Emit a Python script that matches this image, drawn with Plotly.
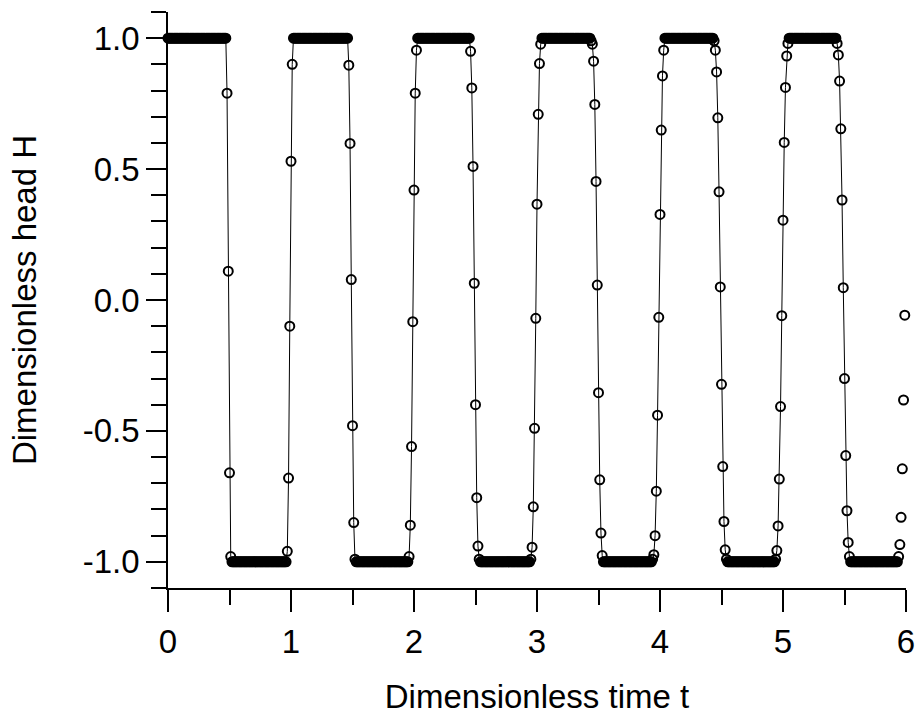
import plotly.graph_objects as go

# ---- data ----
time_step = 0.01
t_last = 5.99
initial_level = 1.0

# start time of each transition and the head values of the markers in it
transition_start = [0.48, 0.97, 1.47, 1.96, 2.46, 2.95, 3.44, 3.94, 4.44, 4.94, 5.44, 5.94]
transition_values = [
    [0.79, 0.11, -0.66, -0.98],
    [-0.96, -0.68, -0.10, 0.53, 0.90],
    [0.897, 0.598, 0.078, -0.48, -0.85, -0.99],
    [-0.98, -0.86, -0.56, -0.083, 0.42, 0.79, 0.954],
    [0.95, 0.81, 0.51, 0.064, -0.40, -0.755, -0.94, -0.99],
    [-0.99, -0.944, -0.79, -0.49, -0.07, 0.366, 0.709, 0.903, 0.977],
    [0.99, 0.977, 0.912, 0.747, 0.453, 0.057, -0.354, -0.687, -0.89, -0.976],
    [-0.99, -0.973, -0.90, -0.73, -0.44, -0.066, 0.327, 0.649, 0.856, 0.954],
    [0.99, 0.954, 0.871, 0.696, 0.413, 0.05, -0.322, -0.636, -0.846, -0.954, -0.99],
    [-0.99, -0.957, -0.863, -0.684, -0.407, -0.06, 0.305, 0.602, 0.812, 0.932, 0.98],
    [0.98, 0.936, 0.836, 0.654, 0.382, 0.047, -0.30, -0.594, -0.805, -0.926, -0.98],
    [-0.98, -0.934, -0.83, -0.645, -0.382, -0.058],
]
line_end_time = 5.93

x_tick_vals = [0, 1, 2, 3, 4, 5, 6]
x_tick_text = ["0", "1", "2", "3", "4", "5", "6"]
y_tick_vals = [-1.0, -0.5, 0.0, 0.5, 1.0]
y_tick_text = ["-1.0", "-0.5", "0.0", "0.5", "1.0"]

# ---- assemble the series (plateaus are the levels +1 / -1) ----
n_total = int(round(t_last / time_step)) + 1
H = []
level = initial_level
idx = 0
for start, vals in zip(transition_start, transition_values):
    s = int(round(start / time_step))
    H.extend([level] * (s - idx))
    idx = s
    H.extend(vals)
    idx += len(vals)
    level = -level
H.extend([level] * (n_total - idx))
t = [round(i * time_step, 4) for i in range(len(H))]

n_line = int(round(line_end_time / time_step)) + 1
t_line = t[:n_line]
H_line = H[:n_line]

FONT = "Liberation Sans, Arial, Helvetica, sans-serif"
FS = 33

fig = go.Figure()
fig.add_trace(go.Scatter(
    x=t_line, y=H_line, mode="lines",
    line=dict(color="black", width=1),
    showlegend=False, hoverinfo="skip",
))
fig.add_trace(go.Scatter(
    x=t, y=H, mode="markers",
    marker=dict(symbol="circle-open", size=9, color="black",
                line=dict(color="black", width=2)),
    cliponaxis=False, showlegend=False,
))

fig.update_layout(
    width=917, height=721,
    margin=dict(l=168, r=11, t=12, b=133),
    paper_bgcolor="white", plot_bgcolor="white",
    font=dict(family=FONT, size=FS, color="black"),
)
fig.update_xaxes(
    range=[0, 6], showgrid=False, zeroline=False,
    showline=True, linecolor="black", linewidth=1.5,
    ticks="outside", ticklen=22, tickwidth=1.5, tickcolor="black",
    tickvals=x_tick_vals, ticktext=x_tick_text,
    tickfont=dict(family=FONT, size=FS),
    ticklabelstandoff=2,
    minor=dict(ticks="outside", ticklen=15, tickwidth=1.5, tickcolor="black",
               tick0=0, dtick=0.5, showgrid=False),
    title=dict(text="Dimensionless time t", font=dict(family=FONT, size=FS), standoff=26),
    automargin=False,
)
fig.update_yaxes(
    range=[-1.1, 1.1], showgrid=False, zeroline=False,
    showline=True, linecolor="black", linewidth=1.5,
    ticks="outside", ticklen=20, tickwidth=1.5, tickcolor="black",
    tickvals=y_tick_vals, ticktext=y_tick_text,
    tickfont=dict(family=FONT, size=FS),
    ticklabelstandoff=0,
    minor=dict(ticks="outside", ticklen=15, tickwidth=1.5, tickcolor="black",
               tick0=0, dtick=0.1, showgrid=False),
    title=dict(text="Dimensionless head H", font=dict(family=FONT, size=FS), standoff=36),
    automargin=False,
)

fig.write_html("out.html")
